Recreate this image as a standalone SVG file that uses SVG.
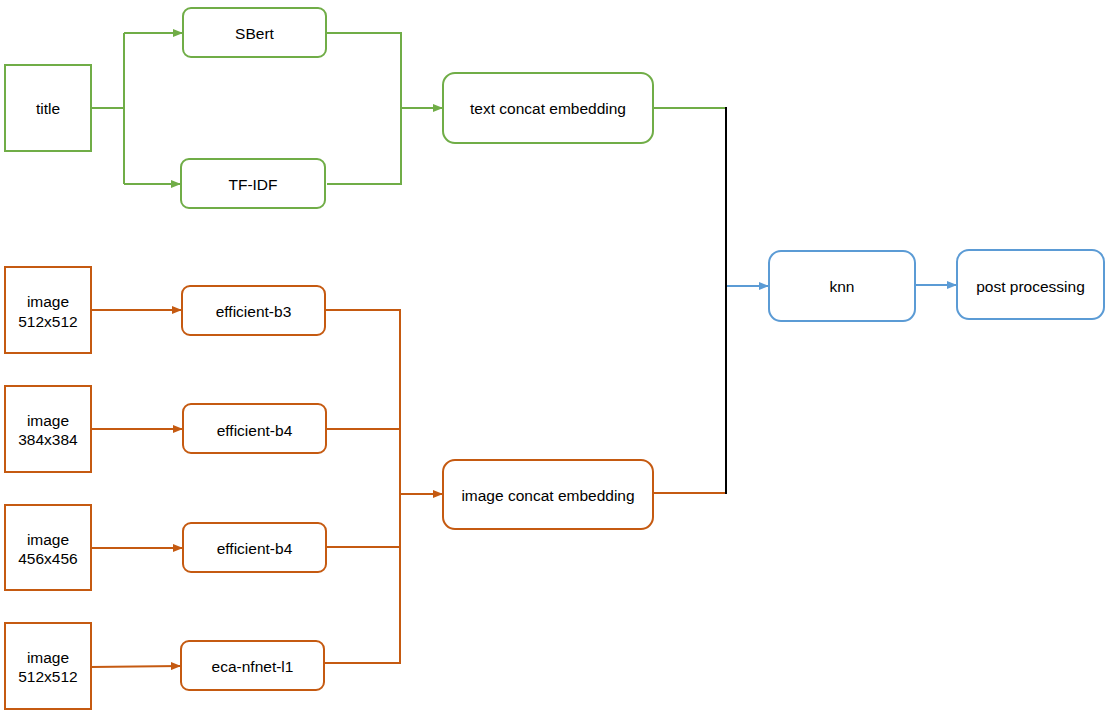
<svg xmlns="http://www.w3.org/2000/svg" width="1107" height="714" viewBox="0 0 1107 714">
<style>
text{font-family:"Liberation Sans",Arial,sans-serif;font-size:15.5px;fill:#000;text-anchor:middle;dominant-baseline:central}
.g{stroke:#70AD47;fill:#fff;stroke-width:2}
.o{stroke:#C55A11;fill:#fff;stroke-width:2}
.b{stroke:#5B9BD5;fill:#fff;stroke-width:2}
.lg{stroke:#70AD47;fill:none;stroke-width:2}
.lo{stroke:#C55A11;fill:none;stroke-width:2}
.lb{stroke:#5B9BD5;fill:none;stroke-width:2}
.lk{stroke:#000;fill:none;stroke-width:2}
</style>
<defs>
<marker id="ag" markerWidth="10" markerHeight="8" refX="9" refY="4" orient="auto" markerUnits="userSpaceOnUse"><path d="M0,0 L10,4 L0,8 Z" fill="#70AD47"/></marker>
<marker id="ao" markerWidth="10" markerHeight="8" refX="9" refY="4" orient="auto" markerUnits="userSpaceOnUse"><path d="M0,0 L10,4 L0,8 Z" fill="#C55A11"/></marker>
<marker id="ab" markerWidth="10" markerHeight="8" refX="9" refY="4" orient="auto" markerUnits="userSpaceOnUse"><path d="M0,0 L10,4 L0,8 Z" fill="#5B9BD5"/></marker>
</defs>
<g id="connectors">
<path class="lg" d="M91,108 H124 M124,33 V184"/>
<path class="lg" d="M124,33 H182" marker-end="url(#ag)"/>
<path class="lg" d="M124,184 H180" marker-end="url(#ag)"/>
<path class="lg" d="M326,33 H401 V184 H327"/>
<path class="lg" d="M401,108 H442" marker-end="url(#ag)"/>
<path class="lg" d="M653,108 H726"/>
<path class="lo" d="M91,310 H181" marker-end="url(#ao)"/>
<path class="lo" d="M91,429 H182" marker-end="url(#ao)"/>
<path class="lo" d="M91,548 H182" marker-end="url(#ao)"/>
<path class="lo" d="M91,667 L180,666" marker-end="url(#ao)"/>
<path class="lo" d="M325,310 H400 V663 H324 M326,429 H400 M326,547 H400"/>
<path class="lo" d="M400,494 H442" marker-end="url(#ao)"/>
<path class="lo" d="M653,493 H726"/>
<path class="lk" d="M726,107 V494"/>
<path class="lb" d="M727,286 H768" marker-end="url(#ab)"/>
<path class="lb" d="M915,285 H956" marker-end="url(#ab)"/>
</g>
<g id="title"><rect class="g" x="5" y="65" width="86" height="86"/><text x="48" y="108">title</text></g>
<g id="sbert"><rect class="g" x="183" y="8" width="143" height="49" rx="8"/><text x="254.5" y="33">SBert</text></g>
<g id="tfidf"><rect class="g" x="181" y="159" width="144" height="49" rx="8"/><text x="253" y="184">TF-IDF</text></g>
<g id="textconcat"><rect class="g" x="443" y="73" width="210" height="70" rx="12"/><text x="548" y="108">text concat embedding</text></g>
<g id="img1"><rect class="o" x="5" y="267" width="86" height="86"/><text x="48" y="301">image</text><text x="48" y="321">512x512</text></g>
<g id="img2"><rect class="o" x="5" y="386" width="86" height="86"/><text x="48" y="420">image</text><text x="48" y="439">384x384</text></g>
<g id="img3"><rect class="o" x="5" y="505" width="86" height="85"/><text x="48" y="539">image</text><text x="48" y="558">456x456</text></g>
<g id="img4"><rect class="o" x="5" y="623" width="86" height="86"/><text x="48" y="657">image</text><text x="48" y="676">512x512</text></g>
<g id="effb3"><rect class="o" x="182" y="286" width="143" height="49" rx="8"/><text x="253.5" y="311">efficient-b3</text></g>
<g id="effb4a"><rect class="o" x="183" y="404" width="143" height="49" rx="8"/><text x="254.5" y="430">efficient-b4</text></g>
<g id="effb4b"><rect class="o" x="183" y="523" width="143" height="49" rx="8"/><text x="254.5" y="548">efficient-b4</text></g>
<g id="nfnet"><rect class="o" x="181" y="641" width="143" height="49" rx="8"/><text x="252.5" y="666">eca-nfnet-l1</text></g>
<g id="imgconcat"><rect class="o" x="443" y="460" width="210" height="69" rx="12"/><text x="548" y="495">image concat embedding</text></g>
<g id="knn"><rect class="b" x="769" y="251" width="146" height="70" rx="12"/><text x="842" y="286">knn</text></g>
<g id="post"><rect class="b" x="957" y="250" width="147" height="69" rx="12"/><text x="1030.5" y="286">post processing</text></g>
</svg>
